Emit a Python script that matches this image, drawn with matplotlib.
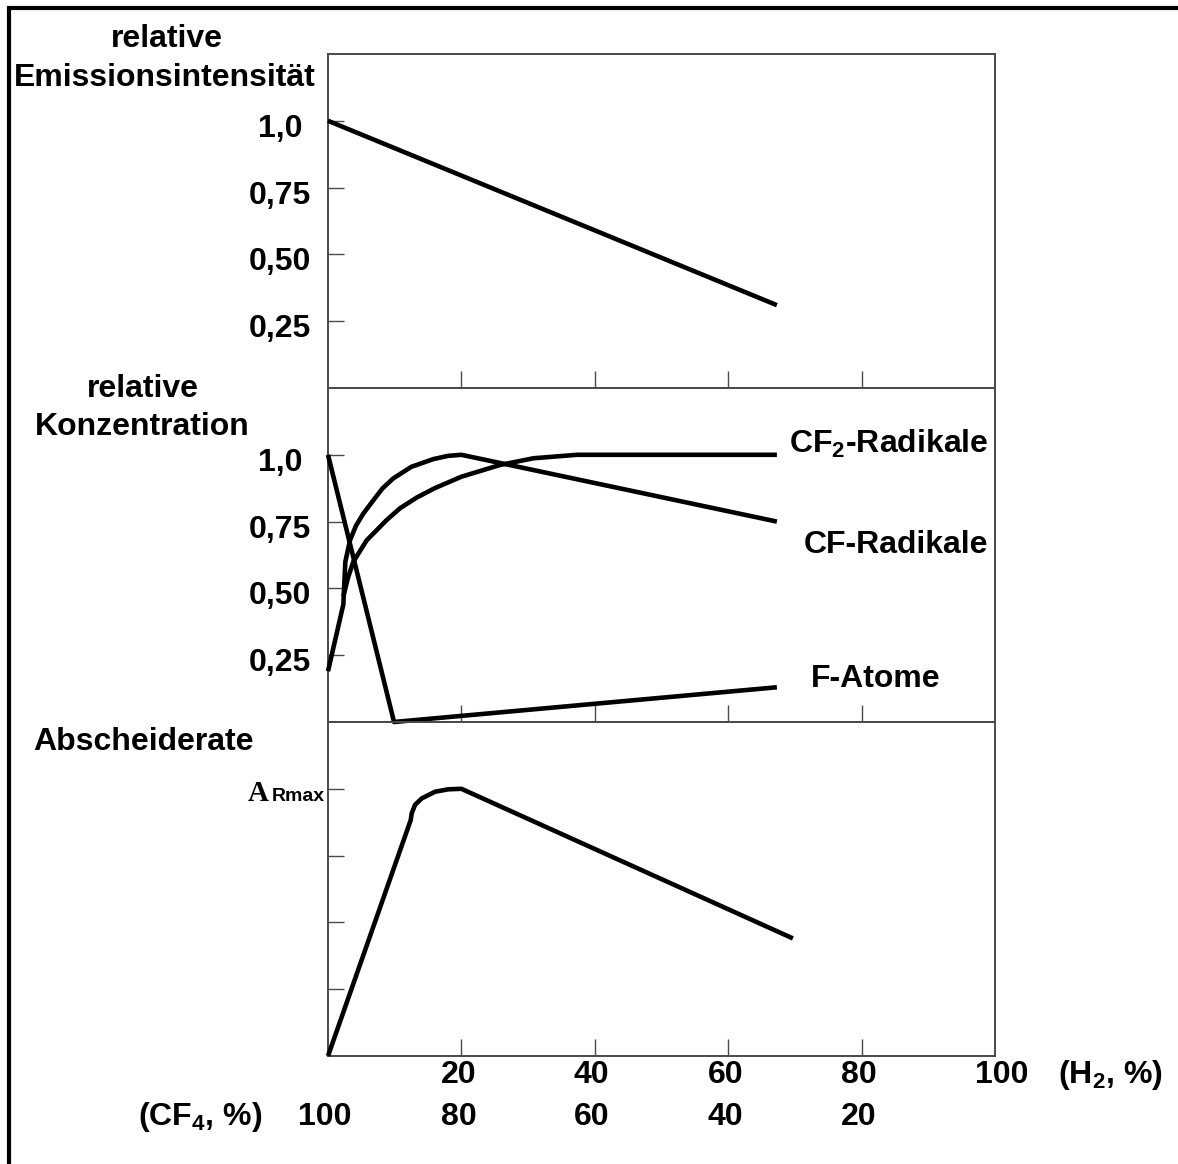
import matplotlib
matplotlib.use("Agg")
import matplotlib.pyplot as plt
from matplotlib.transforms import offset_copy
from matplotlib.lines import Line2D

W, H = 1178, 1164

plt.rcParams['font.family'] = ['Liberation Sans', 'DejaVu Sans']
plt.rcParams['font.weight'] = 'bold'
plt.rcParams['mathtext.fontset'] = 'custom'
plt.rcParams['mathtext.rm'] = 'Liberation Sans:bold'
plt.rcParams['mathtext.it'] = 'Liberation Sans:bold'
plt.rcParams['mathtext.bf'] = 'Liberation Sans:bold'
plt.rcParams['mathtext.default'] = 'regular'

# ---- axis values -------------------------------------------------------
h2_ticks = [20, 40, 60, 80]
h2_tick_labels = ['20', '40', '60', '80', '100']
h2_label_pos = [20, 40, 60, 80, 101.5]
cf4_tick_labels = ['100', '80', '60', '40', '20']
cf4_label_pos = [0, 20, 40, 60, 80]
rel_ticks = [0.25, 0.50, 0.75, 1.0]
rel_tick_labels = ['0,25', '0,50', '0,75', '1,0']

# ---- series -------------------------------------------------------------
# relative emission intensity
emission_h2 = [0, 67.3]
emission_rel = [1.0, 0.31]

# relative concentrations
f_atom_h2 = [0, 9.9, 67.3]
f_atom_rel = [1.0, 0.0, 0.13]

cf_h2 = [0, 2.3, 2.45, 2.6, 3.3, 4.2, 5.3, 6.8, 8.2, 9.8, 12.5, 15.8, 18.0, 20.0, 67.3]
cf_rel = [0.19, 0.44, 0.52, 0.60, 0.68, 0.735, 0.78, 0.83, 0.875, 0.912, 0.955, 0.984,
          0.996, 1.0, 0.75]

cf2_h2 = [2.3, 3.0, 3.8, 5.8, 8.8, 10.8, 13.3, 16.0, 20.0, 25.8, 30.8, 37.3, 67.3]
cf2_rel = [0.47, 0.54, 0.60, 0.68, 0.756, 0.80, 0.84, 0.875, 0.918, 0.962, 0.987, 1.0, 1.0]

# deposition rate (relative to A_Rmax)
rate_h2 = [0, 12.4, 12.55, 13.05, 14.05, 16.05, 18.0, 20.0, 69.7]
rate_rel = [0.0, 0.883, 0.908, 0.94, 0.964, 0.989, 0.998, 1.0, 0.44]

# ---- figure -------------------------------------------------------------
fig = plt.figure(figsize=(W / 100, H / 100), dpi=100)
fig.patch.set_facecolor('white')


def fx(x):
    return x / W


def fy(y):
    return 1 - y / H


FS = 23
LINE_W = 3.3
SPINE_C = '#4a4a4a'

ax_left, ax_right = 328, 995
panel_edges = [(54, 388), (388, 722), (722, 1056)]
axes = []
for top, bottom in panel_edges:
    ax = fig.add_axes([fx(ax_left), fy(bottom), (ax_right - ax_left) / W, (bottom - top) / H])
    ax.set_xlim(0, 100)
    ax.set_ylim(0, 1.25)
    ax.set_facecolor('none')
    for s in ax.spines.values():
        s.set_color(SPINE_C)
        s.set_linewidth(1.4)
    ax.set_xticks(h2_ticks)
    ax.set_yticks(rel_ticks)
    ax.tick_params(axis='y', direction='in', length=11.5, width=1.0, color=SPINE_C,
                   labelleft=False)
    ax.tick_params(axis='x', direction='in', length=12.2, width=1.0, color=SPINE_C,
                   labelbottom=False)
    axes.append(ax)

ax1, ax2, ax3 = axes

line_kw = dict(color='black', lw=LINE_W, solid_capstyle='butt', solid_joinstyle='round',
               clip_on=False, zorder=5)
ax1.plot(emission_h2, emission_rel, **line_kw)
ax2.plot(f_atom_h2, f_atom_rel, **line_kw)
ax2.plot(cf_h2, cf_rel, **line_kw)
ax2.plot(cf2_h2, cf2_rel, **line_kw)
ax3.plot(rate_h2, rate_rel, **line_kw)

# y tick labels for the two relative panels
for ax in (ax1, ax2):
    tr = offset_copy(ax.get_yaxis_transform(), fig=fig, x=0, y=-16, units='dots')
    for val, lab in zip(rel_ticks, rel_tick_labels):
        ax.text((280 - ax_left) / (ax_right - ax_left), val, lab, transform=tr,
                ha='center', va='baseline', fontsize=FS, fontweight='bold')

# A_Rmax marker label on the deposition panel
tr3 = offset_copy(ax3.get_yaxis_transform(), fig=fig, x=0, y=-12, units='dots')
ax3.text((269 - ax_left) / (ax_right - ax_left), 1.0, 'A', transform=tr3,
         ha='right', va='baseline', fontsize=21, fontweight='bold',
         family=['Liberation Serif', 'DejaVu Serif'])
ax3.text((325 - ax_left) / (ax_right - ax_left), 1.0, 'Rmax', transform=tr3,
         ha='right', va='baseline', fontsize=14, fontweight='bold')

# x tick labels: H2 share and CF4 share
tr_x1 = offset_copy(ax3.get_xaxis_transform(), fig=fig, x=-3, y=-27, units='dots')
for pos, lab in zip(h2_label_pos, h2_tick_labels):
    ax3.text(pos, 0, lab, transform=tr_x1, ha='center', va='baseline',
             fontsize=FS, fontweight='bold')
tr_x2 = offset_copy(ax3.get_xaxis_transform(), fig=fig, x=-3, y=-69, units='dots')
for pos, lab in zip(cf4_label_pos, cf4_tick_labels):
    ax3.text(pos, 0, lab, transform=tr_x2, ha='center', va='baseline',
             fontsize=FS, fontweight='bold')

fig.text(fx(1058), fy(1083), '(H$_2$, %)', ha='left', va='baseline', fontsize=FS,
         fontweight='bold')
fig.text(fx(200), fy(1125), '(CF$_4$, %)', ha='center', va='baseline', fontsize=FS,
         fontweight='bold')

# panel titles
fig.text(fx(167), fy(47), 'relative', ha='center', va='baseline', fontsize=FS, fontweight='bold')
fig.text(fx(165), fy(86), 'Emissionsintensität', ha='center', va='baseline', fontsize=FS,
         fontweight='bold')
fig.text(fx(143), fy(397), 'relative', ha='center', va='baseline', fontsize=FS, fontweight='bold')
fig.text(fx(142), fy(435), 'Konzentration', ha='center', va='baseline', fontsize=FS,
         fontweight='bold')
fig.text(fx(33), fy(750), 'Abscheiderate', ha='left', va='baseline', fontsize=FS,
         fontweight='bold')

# series names
fig.text(fx(988), fy(453), 'CF$_2$-Radikale', ha='right', va='baseline', fontsize=FS,
         fontweight='bold')
fig.text(fx(988), fy(553), 'CF-Radikale', ha='right', va='baseline', fontsize=FS,
         fontweight='bold')
fig.text(fx(876), fy(687), 'F-Atome', ha='center', va='baseline', fontsize=FS,
         fontweight='bold')

# outer frame (left and top edges)
fig.add_artist(Line2D([fx(8.5), fx(8.5)], [fy(6), fy(H)], transform=fig.transFigure,
                      color='black', lw=3.0, solid_capstyle='butt'))
fig.add_artist(Line2D([fx(6.5), fx(W)], [fy(8), fy(8)], transform=fig.transFigure,
                      color='black', lw=3.0, solid_capstyle='butt'))

fig.savefig('out.png', dpi=100, facecolor='white')
